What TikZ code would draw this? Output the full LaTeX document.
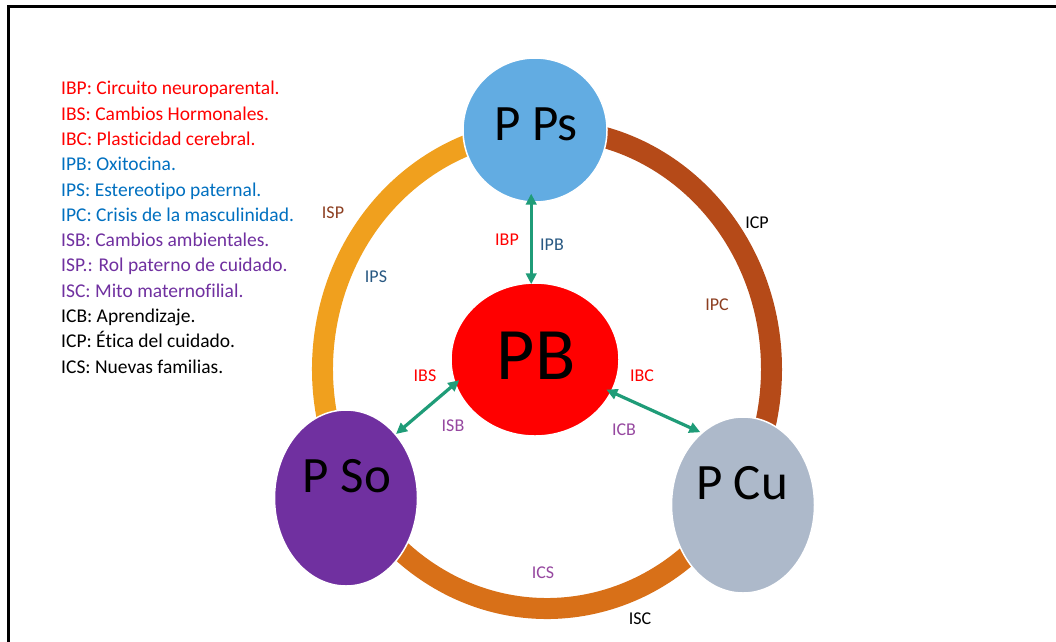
\documentclass[tikz,border=0pt]{standalone}
\usepackage{fontspec}
\setmainfont{Carlito}[Ligatures={CommonOff}]
\usetikzlibrary{shapes.geometric,arrows.meta,calc}

\definecolor{ppsblue}{RGB}{98,172,226}
\definecolor{pbred}{RGB}{255,0,0}
\definecolor{psopurple}{RGB}{112,48,160}
\definecolor{pcugrey}{RGB}{173,185,202}
\definecolor{arcleft}{RGB}{240,160,30}
\definecolor{arcright}{RGB}{181,74,24}
\definecolor{arcbottom}{RGB}{216,112,24}
\definecolor{linkgreen}{RGB}{31,156,120}
\definecolor{lbldarkblue}{RGB}{40,88,130}
\definecolor{lblbrown}{RGB}{140,62,32}
\definecolor{lblpurple}{RGB}{150,72,160}
\definecolor{legblue}{RGB}{0,112,192}
\definecolor{legpurple}{RGB}{112,48,160}

\tikzset{
  blob/.style={draw=white, line width=1.5pt, inner sep=0pt},
  bigtxt/.style={font=\fontsize{51}{60}\selectfont, inner sep=0pt},
  hugetxt/.style={font=\fontsize{74}{84}\selectfont, inner sep=0pt},
  lbl/.style={font=\fontsize{18}{21}\selectfont, inner sep=0pt},
  legend/.style={font=\fontsize{19.5}{23}\selectfont, inner sep=0pt, anchor=base west},
  band/.style={line width=21pt},
  link/.style={draw=linkgreen, line width=3.2pt,
    {Triangle[length=11pt,width=10.5pt]}-{Triangle[length=11pt,width=10.5pt]}},
}

\begin{document}
\begin{tikzpicture}[x=1pt,y=-1pt]
\useasboundingbox (0,0) rectangle (1056,641);
\fill[white] (0,0) rectangle (1056,641);
\clip (0,0) rectangle (1056,641);

% outer frame (runs off the right and bottom edges)
\draw[line width=3pt] (8.5,6.5) rectangle (1120,700);

% legend
\foreach \c/\t [count=\i] in {
  pbred/{IBP: Circuito neuroparental.},
  pbred/{IBS: Cambios Hormonales.},
  pbred/{IBC: Plasticidad cerebral.},
  legblue/{IPB: Oxitocina.},
  legblue/{IPS: Estereotipo paternal.},
  legblue/{IPC: Crisis de la masculinidad.},
  legpurple/{ISB: Cambios ambientales.},
  legpurple/{ISP.: Rol paterno de cuidado.},
  legpurple/{ISC: Mito maternofilial.},
  black/{ICB: Aprendizaje.},
  black/{ICP: Ética del cuidado.},
  black/{ICS: Nuevas familias.}}
  \node[legend, text=\c] (leg\i) at (61,{94.8+25.3*(\i-1)}) {\t};

% ring of three coloured bands
\coordinate (ring) at (547,369);
\draw[band, arcleft]   ($(ring)+(148.9:224.5 and 239.5)$)
  arc[start angle=148.9, end angle=267, x radius=224.5, y radius=239.5];
\draw[band, arcright]  ($(ring)+(267:224.5 and 239.5)$)
  arc[start angle=267, end angle=393.1, x radius=224.5, y radius=239.5];
\draw[band, arcbottom] ($(ring)+(33.1:224.5 and 239.5)$)
  arc[start angle=33.1, end angle=148.9, x radius=224.5, y radius=239.5];

% the four poles
\node[blob, circle, fill=ppsblue, minimum size=144pt] (pps) at (535,130) {};
\node[blob, ellipse, fill=pbred, minimum width=168pt, minimum height=153pt] (pb) at (535,359.5) {};
\node[blob, ellipse, fill=psopurple, minimum width=143pt, minimum height=176pt] (pso) at (346,498) {};
\node[blob, ellipse, fill=pcugrey, minimum width=143pt, minimum height=176pt] (pcu) at (743,505) {};

\node[bigtxt]  (ppsT) at ($(pps)+(1,-6)$) {P Ps};
\node[hugetxt] (pbT)  at ($(pb)+(1,-3.5)$) {PB};
\node[bigtxt]  (psoT) at ($(pso)+(1,-22)$) {P So};
\node[bigtxt]  (pcuT) at ($(pcu)+(-1,-22)$) {P Cu};

% links between the centre and the outer poles
\draw[link, shorten <=-9pt, shorten >=-2pt] (pps.267) -- (pps.267 |- pb.north);
\draw[link, shorten <=-6pt] (pb.197) -- (pso.52);
\draw[link, shorten <=-6pt, shorten >=1pt] (pb.-23) -- (pcu.120);

% link labels
\node[lbl, text=pbred]       (lIBP) at (507,240) {IBP};
\node[lbl, text=lbldarkblue] (lIPB) at (552,245) {IPB};
\node[lbl, text=pbred]       (lIBS) at (425,376) {IBS};
\node[lbl, text=pbred]       (lIBC) at (642,376) {IBC};
\node[lbl, text=lblpurple]   (lISB) at (453,426) {ISB};
\node[lbl, text=lblpurple]   (lICB) at (624,430) {ICB};

% band labels
\node[lbl, text=lblbrown]    (lISP) at (333,213) {ISP};
\node[lbl, text=lbldarkblue] (lIPS) at (376,277) {IPS};
\node[lbl, text=black]       (lICP) at (757,223) {ICP};
\node[lbl, text=lblbrown]    (lIPC) at (717,305) {IPC};
\node[lbl, text=lblpurple]   (lICS) at (543,573) {ICS};
\node[lbl, text=black]       (lISC) at (640,619) {ISC};
\end{tikzpicture}
\end{document}
